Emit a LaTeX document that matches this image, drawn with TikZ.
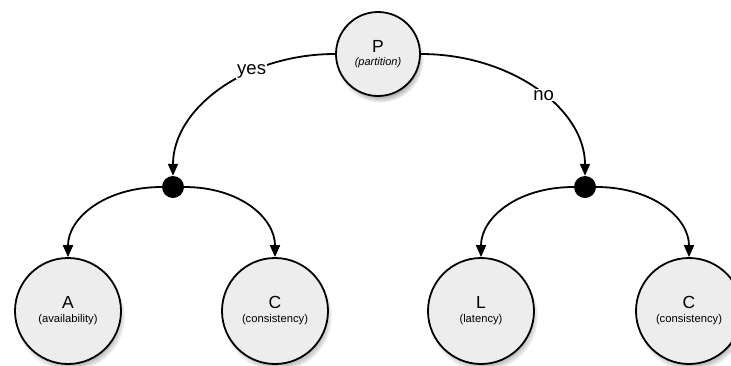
\documentclass[tikz,border=0pt]{standalone}
\usepackage{fontspec}
\setmainfont{Liberation Sans}
\usetikzlibrary{arrows.meta,shadows}
\definecolor{nodefill}{HTML}{EDEDED}
\begin{document}
\begin{tikzpicture}[x=1pt,y=-1pt,
  state/.style={circle,draw=black,line width=1.8pt,fill=nodefill,
    minimum size=#1,inner sep=0pt,align=center,
    circular drop shadow={shadow xshift=2pt,shadow yshift=-5pt,shadow scale=1.04,opacity=0.6}},
  junction/.style={circle,fill=black,minimum size=22pt,inner sep=0pt},
  flow/.style={line width=1.8pt,-{Triangle[length=12pt,width=10pt]}},
  edgelabel/.style={fill=white,inner sep=1pt,font=\fontsize{18.5}{20}\selectfont},
]
\newcommand\statetext[2]{{\fontsize{17.5}{19}\selectfont #1}\\[2pt]{\fontsize{11.2}{13}\selectfont #2}}
\useasboundingbox (0,0) rectangle (731,365);

% nodes
\node[state=84pt] (P) at (378,54)
  {{\fontsize{17.5}{19}\selectfont P}\\[1pt]{\fontsize{11}{12}\selectfont\itshape (partition)}};
\node[junction] (jl) at (173,187) {};
\node[junction] (jr) at (585,187) {};
\node[state=106pt] (A) at (68,311) {\statetext{A}{(availability)}};
\node[state=106pt] (C1) at (275,311) {\statetext{C}{(consistency)}};
\node[state=106pt] (L) at (481,311) {\statetext{L}{(latency)}};
\node[state=106pt] (C2) at (689,311) {\statetext{C}{(consistency)}};

% connectors: quarter-ellipse arcs
\draw[flow] (P.west) .. controls +(-90,0) and +(0,-67) .. (jl.north)
  node[pos=0.34,edgelabel] {yes};
\draw[flow] (P.east) .. controls +(90,0) and +(0,-67) .. (jr.north)
  node[pos=0.54,edgelabel] {no};
\draw[flow] (jl.west) .. controls +(-57,0) and +(0,-39) .. (A.north);
\draw[flow] (jl.east) .. controls +(56,0) and +(0,-39) .. (C1.north);
\draw[flow] (jr.west) .. controls +(-57,0) and +(0,-39) .. (L.north);
\draw[flow] (jr.east) .. controls +(57,0) and +(0,-39) .. (C2.north);
\end{tikzpicture}
\end{document}
